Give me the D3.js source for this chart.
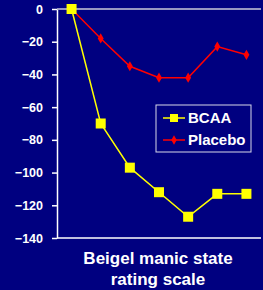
<!DOCTYPE html>
<html>
<head>
<meta charset="utf-8">
<script src="https://cdn.jsdelivr.net/npm/d3@7"></script>
<style>
  body { margin: 0; background: #000080; }
  svg { display: block; }
  text { font-family: "Liberation Sans", Arial, sans-serif; font-weight: bold; fill: #fff; }
</style>
</head>
<body>
<div id="chart"></div>
<script>
// data
const visits = ["1", "2", "3", "4", "5", "6", "7"];
const bcaa = [0, -70, -97, -112, -127, -113, -113];
const placebo = [0, -18, -35, -42, -42, -23, -28];
const yTicks = [0, -20, -40, -60, -80, -100, -120, -140];
const titleLines = ["Beigel manic state", "rating scale"];

const W = 263, H = 290;
const margin = { top: 9, right: 2, bottom: 52, left: 57 },
    width = W - margin.left - margin.right,
    height = H - margin.top - margin.bottom;

const svg = d3.select("#chart").append("svg")
    .attr("width", W)
    .attr("height", H);

const g = svg.append("g")
    .attr("transform", "translate(" + margin.left + "," + margin.top + ")");

const x = d3.scalePoint().domain(visits).range([0, width]).padding(0.5);
const y = d3.scaleLinear().domain([-140, 0]).range([height, 0]);

// y axis
const yAxis = g.append("g")
    .call(d3.axisLeft(y).tickValues(yTicks).tickSize(5).tickPadding(9).tickSizeOuter(0));
yAxis.select(".domain").attr("stroke", "#fff").attr("stroke-width", 1.5);
yAxis.selectAll(".tick line").attr("stroke", "#fff").attr("stroke-width", 1.5);
yAxis.selectAll(".tick text")
    .attr("fill", "#fff")
    .style("font-size", "12.5px")
    .style("font-family", "Liberation Sans, Arial, sans-serif")
    .style("font-weight", "bold");

// top line at 0 and bottom axis line
g.append("line")
    .attr("x1", 0).attr("x2", width)
    .attr("y1", y(0)).attr("y2", y(0))
    .attr("stroke", "#c8c8d8").attr("stroke-width", 1.5);
g.append("line")
    .attr("x1", 0).attr("x2", width)
    .attr("y1", y(-140)).attr("y2", y(-140))
    .attr("stroke", "#fff").attr("stroke-width", 1.5);

const line = d3.line()
    .x(function (d, i) { return x(visits[i]); })
    .y(function (d) { return y(d); });

// placebo series
g.append("path")
    .datum(placebo)
    .attr("fill", "none")
    .attr("stroke", "#ff0000")
    .attr("stroke-width", 1.5)
    .attr("d", line);
g.selectAll(".pdot").data(placebo).enter().append("path")
    .attr("class", "pdot")
    .attr("transform", function (d, i) { return "translate(" + x(visits[i]) + "," + y(d) + ")"; })
    .attr("d", d3.symbol().type(d3.symbolDiamond).size(30))
    .attr("fill", "#ff0000");

// BCAA series
g.append("path")
    .datum(bcaa)
    .attr("fill", "none")
    .attr("stroke", "#ffff00")
    .attr("stroke-width", 1.5)
    .attr("d", line);
g.selectAll(".bdot").data(bcaa).enter().append("rect")
    .attr("class", "bdot")
    .attr("x", function (d, i) { return x(visits[i]) - 5; })
    .attr("y", function (d) { return y(d) - 5; })
    .attr("width", 10).attr("height", 10)
    .attr("fill", "#ffff00");

// legend
const legend = svg.append("g").attr("transform", "translate(156,105)");
legend.append("rect")
    .attr("width", 95).attr("height", 47)
    .attr("fill", "#000080")
    .attr("stroke", "#d8d8e8").attr("stroke-width", 1);
const items = [
    { name: "BCAA", color: "#ffff00", shape: "square" },
    { name: "Placebo", color: "#ff0000", shape: "diamond" }
];
items.forEach(function (it, i) {
    const cy = 13 + i * 22;
    legend.append("line")
        .attr("x1", 7).attr("x2", 29).attr("y1", cy).attr("y2", cy)
        .attr("stroke", it.color).attr("stroke-width", 1.5);
    if (it.shape === "square") {
        legend.append("rect").attr("x", 14).attr("y", cy - 4).attr("width", 8).attr("height", 8).attr("fill", it.color);
    } else {
        legend.append("path").attr("transform", "translate(18," + cy + ")")
            .attr("d", d3.symbol().type(d3.symbolDiamond).size(26)).attr("fill", it.color);
    }
    legend.append("text")
        .attr("x", 32).attr("y", cy + 5)
        .style("font-size", "15px")
        .text(it.name);
});

// x title
svg.selectAll(".title").data(titleLines).enter().append("text")
    .attr("class", "title")
    .attr("x", 158)
    .attr("y", function (d, i) { return 264 + i * 21; })
    .attr("text-anchor", "middle")
    .style("font-size", "17px")
    .text(function (d) { return d; });
</script>
</body>
</html>
